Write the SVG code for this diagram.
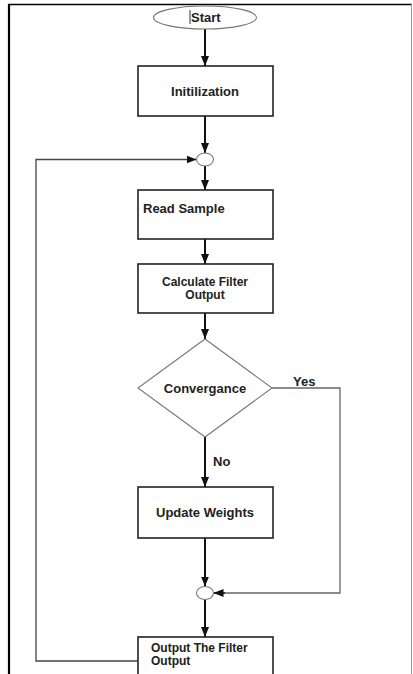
<svg xmlns="http://www.w3.org/2000/svg" width="413" height="674" viewBox="0 0 413 674">
<style>
.t{font-family:"Liberation Sans",Arial,sans-serif;font-weight:bold;font-size:13px;fill:#222}
.s{font-size:12px}
.c{text-anchor:middle}
.box{fill:#fff;stroke:#222;stroke-width:1.6}
.thin{fill:#fff;stroke:#777;stroke-width:1.1}
.main{fill:none;stroke:#111;stroke-width:2}
.fb{fill:none;stroke:#444;stroke-width:1.3}
.yes{fill:none;stroke:#666;stroke-width:1.3}
</style>
<defs>
<marker id="ah" markerUnits="userSpaceOnUse" markerWidth="10" markerHeight="10" viewBox="0 0 10 10" refX="10" refY="5" orient="auto">
<path d="M0,1 L10,5 L0,9 Z" fill="#111"/>
</marker>
</defs>
<rect x="0" y="0" width="413" height="674" fill="#fff"/>
<g id="frame">
<line x1="9" y1="4" x2="9" y2="674" stroke="#000" stroke-width="2.2"/>
<line x1="8" y1="4.5" x2="412" y2="4.5" stroke="#000" stroke-width="1.5"/>
<line x1="411.5" y1="4" x2="411.5" y2="674" stroke="#999" stroke-width="1"/>
</g>
<g id="connectors">
<line class="main" x1="205" y1="29" x2="205" y2="66" marker-end="url(#ah)"/>
<line class="main" x1="205" y1="116" x2="205" y2="153" marker-end="url(#ah)"/>
<line class="main" x1="205" y1="166" x2="205" y2="190" marker-end="url(#ah)"/>
<line class="main" x1="205" y1="239" x2="205" y2="264" marker-end="url(#ah)"/>
<line class="main" x1="205" y1="313" x2="205" y2="339" marker-end="url(#ah)"/>
<line class="main" x1="205" y1="437" x2="205" y2="487" marker-end="url(#ah)"/>
<line class="main" x1="205" y1="538" x2="205" y2="586.5" marker-end="url(#ah)"/>
<line class="main" x1="205" y1="599.5" x2="205" y2="637" marker-end="url(#ah)"/>
<path class="yes" d="M272,388 H340 V593 H214.5"/>
<line x1="225" y1="593" x2="213.5" y2="593" stroke="#111" stroke-width="1.3" marker-end="url(#ah)"/>
<path class="fb" d="M138,661 H36 V159.5 H196.5" marker-end="url(#ah)"/>
<text class="t" x="293" y="386">Yes</text>
<text class="t" x="213" y="466">No</text>
</g>
<g id="start">
<ellipse class="thin" cx="205" cy="17.5" rx="51.5" ry="11.5"/>
<line x1="190" y1="10" x2="190" y2="24" stroke="#333" stroke-width="1"/>
<text class="t" x="191" y="22">Start</text>
</g>
<g id="init">
<rect class="box" x="138" y="66" width="135" height="50"/>
<text class="t c" x="205" y="96">Initilization</text>
</g>
<g id="merge1">
<ellipse class="thin" cx="205" cy="159.5" rx="8.5" ry="6.5"/>
</g>
<g id="read">
<rect class="box" x="138" y="190" width="135" height="49"/>
<text class="t" x="143" y="213">Read Sample</text>
</g>
<g id="calc">
<rect class="box" x="138" y="264" width="135" height="49"/>
<text class="t s c" x="205" y="285.5">Calculate Filter</text>
<text class="t s c" x="205" y="299">Output</text>
</g>
<g id="conv">
<polygon class="thin" points="205,339 272,388 205,437 138,388"/>
<text class="t c" x="205" y="392.5">Convergance</text>
</g>
<g id="update">
<rect class="box" x="138" y="487" width="135" height="51"/>
<text class="t c" x="205" y="516.5">Update Weights</text>
</g>
<g id="merge2">
<ellipse class="thin" cx="205" cy="593" rx="8.5" ry="6.5"/>
</g>
<g id="output">
<rect class="box" x="138" y="637" width="135" height="45"/>
<text class="t s" x="151" y="651.5">Output The Filter</text>
<text class="t s" x="151" y="665">Output</text>
</g>
</svg>
